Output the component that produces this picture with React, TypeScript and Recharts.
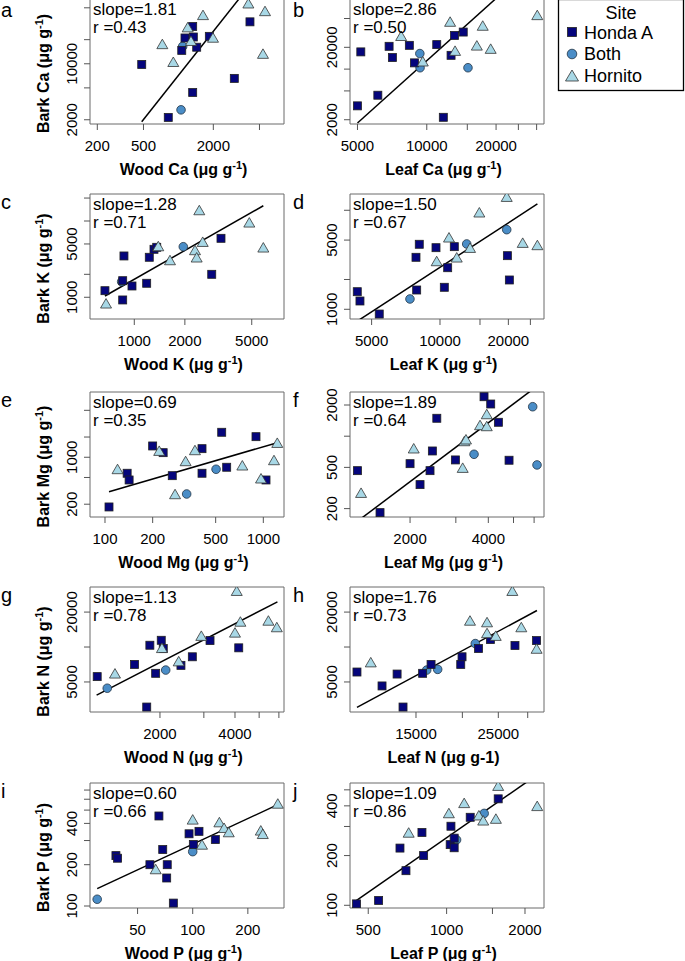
import React from "react";
import { ScatterChart, Scatter, XAxis, YAxis, ReferenceArea, ReferenceLine } from "recharts";

type Pt = [number, number];

// a: wood Ca vs bark Ca
const aHonda: Pt[] = [[483, 9800], [818, 2140], [1328, 4380], [3034, 6570], [4140, 33400], [1069, 14700], [1140, 21000], [1328, 29200], [1345, 21600], [1438, 16100], [1848, 22000]];
const aBoth: Pt[] = [[1089, 16500], [1054, 2660]];
const aHornito: Pt[] = [[727, 17700], [904, 10600], [1203, 28700], [1284, 19400], [1630, 40800], [1988, 21300], [4010, 57000], [5580, 45700], [5360, 13400]];
const aFit: Pt[] = [[483, 1890], [5580, 166000]];

// b: leaf Ca vs bark Ca
const bHonda: Pt[] = [[5000, 3110], [5170, 17300], [6130, 4360], [6860, 20650], [7090, 14450], [8400, 21300], [8840, 12200], [11050, 21800], [11800, 2160], [12750, 15500], [13200, 29200], [14400, 32500]];
const bBoth: Pt[] = [[9330, 16400], [9350, 10450], [15100, 10450]];
const bHornito: Pt[] = [[7740, 28900], [9610, 12850], [12630, 45400], [13270, 18000], [16500, 21300], [17500, 40000], [18950, 19200], [30200, 56100]];
const bFit: Pt[] = [[5000, 1800], [30200, 308000]];

// c: wood K vs bark K
const cHonda: Pt[] = [[669, 1220], [868, 3480], [853, 1650], [853, 922], [969, 1406], [1185, 1526], [1228, 3345], [1310, 4256], [1360, 4520], [2890, 2000], [3281, 5930]];
const cBoth: Pt[] = [[841, 1600], [1957, 4600]];
const cHornito: Pt[] = [[679, 834], [1389, 4700], [1631, 3080], [2437, 13940], [2298, 4170], [2351, 3345], [2554, 5355], [4836, 9610], [5860, 4520]];
const cFit: Pt[] = [[669, 1040], [5860, 15860]];

// d: leaf K vs bark K
const dHonda: Pt[] = [[4323, 1506], [4443, 1213], [5402, 896], [7840, 3350], [7895, 1566], [8105, 4535], [9603, 4190], [10447, 1668], [10810, 2630], [11560, 4290], [19800, 3480], [20200, 1977]];
const dBoth: Pt[] = [[7375, 1271], [13110, 4570], [19670, 6370]];
const dHornito: Pt[] = [[9670, 3075], [10955, 5335], [11850, 3350], [13560, 4190], [14900, 9550], [19670, 13720], [23130, 4710], [26840, 4465]];
const dFit: Pt[] = [[4323, 759], [26840, 11580]];

// e: wood Mg vs bark Mg
const eHonda: Pt[] = [[106, 182], [138, 578], [142, 459], [200, 1473], [233, 1171], [266, 532], [410, 1343], [410, 578], [546, 2355], [587, 710], [899, 2026], [1040, 459]];
const eBoth: Pt[] = [[328, 284], [503, 663]];
const eHornito: Pt[] = [[120, 670], [220, 1254], [277, 284], [323, 881], [370, 1284], [737, 760], [967, 487], [1168, 911], [1225, 1649]];
const eFit: Pt[] = [[106, 307], [1225, 1649]];

// f: leaf Mg vs bark Mg
const fHonda: Pt[] = [[1255, 465], [1533, 183], [2000, 543], [2185, 341], [2387, 465], [2437, 720], [2535, 1489], [2988, 590], [3851, 2404], [4086, 2045], [4373, 1362], [4806, 586]];
const fBoth: Pt[] = [[3525, 669], [5926, 1925], [6157, 528]];
const fHornito: Pt[] = [[1296, 285], [2066, 765], [3188, 497], [3236, 899], [3282, 934], [3717, 1283], [3945, 1637], [3945, 1255]];
const fFit: Pt[] = [[1255, 151], [6157, 3040]];

// g: wood N vs bark N
const gHonda: Pt[] = [[1120, 5560], [1582, 7080], [1770, 3040], [1822, 10360], [1922, 5935], [2024, 11430], [2062, 9705], [2428, 6950], [2697, 8240], [3176, 11360], [4141, 9840]];
const gBoth: Pt[] = [[1229, 4415], [2109, 6330]];
const gHornito: Pt[] = [[1320, 5935], [2037, 9840], [2378, 7560], [2930, 12530], [4000, 13370], [4065, 30560], [4204, 16600], [5445, 16940], [5886, 14870]];
const gFit: Pt[] = [[1114, 3850], [5920, 24500]];

// h: leaf N vs bark N
const hHonda: Pt[] = [[10400, 6090], [12150, 4620], [13340, 5850], [13840, 3040], [15630, 5935], [16470, 7080], [19800, 7080], [19960, 8240], [22110, 9705], [23800, 11590], [27720, 10300], [31700, 11360]];
const hBoth: Pt[] = [[16030, 6330], [17160, 6420], [21670, 10710]];
const hHornito: Pt[] = [[11330, 7410], [20970, 16940], [23310, 16410], [23310, 13220], [24600, 12530], [27270, 30560], [28830, 14870], [31700, 9705]];
const hFit: Pt[] = [[10400, 3020], [31770, 20640]];

// i: wood P vs bark P
const iHonda: Pt[] = [[38.1, 233], [38.9, 223], [58.4, 200], [65.4, 453], [68.6, 258], [72.1, 160], [72.6, 200], [78.4, 105], [95.5, 336], [100.8, 281], [108.2, 350], [132.9, 305]];
const iBoth: Pt[] = [[30.1, 112], [100, 249]];
const iHornito: Pt[] = [[62.8, 186], [100, 428], [112.4, 281], [139.8, 409], [148.3, 372], [157.3, 346], [235.3, 356], [241.3, 336], [291.4, 559]];
const iFit: Pt[] = [[30.1, 134], [291.4, 548]];

// j: leaf P vs bark P
const jHonda: Pt[] = [[451, 102], [548, 107], [662, 222], [698, 162], [804, 276], [816, 200], [1039, 301], [1032, 233], [1069, 255], [1069, 223], [1232, 341], [1578, 441]];
const jBoth: Pt[] = [[1092, 249], [1394, 360]];
const jHornito: Pt[] = [[715, 276], [1020, 362], [1168, 417], [1330, 351], [1382, 327], [1546, 335], [1578, 530], [2228, 400]];
const jFit: Pt[] = [[451, 107], [2228, 617]];

const FONT = '"Liberation Sans", Arial, Helvetica, sans-serif';
const HONDA = "#05057c";
const BOTH = "#4a8dc7";
const HORNITO = "#a8d8e6";

const BOX_W = 194;
const BOX_H = 125;
const Y_AXIS_W = 40;
const TOP_PAD = 12;
const RIGHT_PAD = 14;
const X_AXIS_H = 36;

interface PanelSpec {
  tag: string;
  left: number;
  top: number;
  xDomain: [number, number];
  xTicks: number[];
  xLabels: number[];
  yDomain: [number, number];
  yTicks: number[];
  yLabels: number[];
  xName: string;
  xSup: boolean;
  yName?: string;
  slope: string;
  r: string;
  honda: Pt[];
  both: Pt[];
  hornito: Pt[];
  fit: Pt[];
}

const panels: PanelSpec[] = [
  { tag: "a", left: 90, top: -1, xDomain: [173, 8135], xTicks: [200, 500, 2000, 5000], xLabels: [200, 500, 2000],
    yDomain: [1770, 64400], yTicks: [2000, 5000, 10000, 20000, 50000], yLabels: [2000, 10000],
    xName: "Wood Ca", xSup: true, yName: "Bark Ca", slope: "1.81", r: "0.43", honda: aHonda, both: aBoth, hornito: aHornito, fit: aFit },
  { tag: "b", left: 350, top: -1, xDomain: [4640, 32300], xTicks: [5000, 10000, 15000, 20000, 25000, 30000], xLabels: [5000, 10000, 20000],
    yDomain: [1746, 93000], yTicks: [2000, 5000, 10000, 20000, 50000], yLabels: [2000, 20000],
    xName: "Leaf Ca", xSup: true, slope: "2.86", r: "0.50", honda: bHonda, both: bBoth, hornito: bHornito, fit: bFit },
  { tag: "c", left: 90, top: 194, xDomain: [545, 7780], xTicks: [1000, 2000, 5000], xLabels: [1000, 2000, 5000],
    yDomain: [519, 22600], yTicks: [1000, 2000, 5000, 10000, 20000], yLabels: [1000, 5000],
    xName: "Wood K", xSup: true, yName: "Bark K", slope: "1.28", r: "0.71", honda: cHonda, both: cBoth, hornito: cHornito, fit: cFit },
  { tag: "d", left: 350, top: 194, xDomain: [4016, 28700], xTicks: [5000, 10000, 15000, 20000, 25000], xLabels: [5000, 10000, 20000],
    yDomain: [798, 14600], yTicks: [1000, 2000, 5000, 10000], yLabels: [1000, 5000],
    xName: "Leaf K", xSup: true, slope: "1.50", r: "0.67", honda: dHonda, both: dBoth, hornito: dHornito, fit: dFit },
  { tag: "e", left: 90, top: 392, xDomain: [80.4, 1351], xTicks: [100, 200, 500, 1000], xLabels: [100, 200, 500, 1000],
    yDomain: [129, 9370], yTicks: [200, 500, 1000, 2000, 5000], yLabels: [200, 1000],
    xName: "Wood Mg", xSup: true, yName: "Bark Mg", slope: "0.69", r: "0.35", honda: eHonda, both: eBoth, hornito: eHornito, fit: eFit },
  { tag: "f", left: 350, top: 392, xDomain: [1175, 6550], xTicks: [2000, 3000, 4000, 5000, 6000], xLabels: [2000, 4000],
    yDomain: [166, 2670], yTicks: [200, 500, 1000, 2000], yLabels: [200, 500, 2000],
    xName: "Leaf Mg", xSup: true, slope: "1.89", r: "0.64", honda: fHonda, both: fBoth, hornito: fHornito, fit: fFit },
  { tag: "g", left: 90, top: 587, xDomain: [1048, 6290], xTicks: [2000, 3000, 4000, 5000, 6000], xLabels: [2000, 4000],
    yDomain: [2755, 32900], yTicks: [5000, 10000, 20000], yLabels: [5000, 20000],
    xName: "Wood N", xSup: true, yName: "Bark N", slope: "1.13", r: "0.78", honda: gHonda, both: gBoth, hornito: gHornito, fit: gFit },
  { tag: "h", left: 350, top: 587, xDomain: [9960, 33190], xTicks: [15000, 20000, 25000, 30000], xLabels: [15000, 25000],
    yDomain: [2755, 32900], yTicks: [5000, 10000, 20000], yLabels: [5000, 20000],
    xName: "Leaf N", xSup: false, slope: "1.76", r: "0.73", honda: hHonda, both: hBoth, hornito: hHornito, fit: hFit },
  { tag: "i", left: 90, top: 783, xDomain: [27.5, 315], xTicks: [50, 100, 200], xLabels: [50, 100, 200],
    yDomain: [96.7, 788], yTicks: [100, 200, 300, 400, 500, 600, 700], yLabels: [100, 200, 400],
    xName: "Wood P", xSup: true, yName: "Bark P", slope: "0.60", r: "0.66", honda: iHonda, both: iBoth, hornito: iHornito, fit: iFit },
  { tag: "j", left: 350, top: 783, xDomain: [425.5, 2366], xTicks: [500, 1000, 1500, 2000], xLabels: [500, 1000, 2000],
    yDomain: [96.3, 550], yTicks: [100, 200, 300, 400, 500], yLabels: [100, 200, 400],
    xName: "Leaf P", xSup: true, slope: "1.09", r: "0.86", honda: jHonda, both: jBoth, hornito: jHornito, fit: jFit },
];

const toXY = (pts: Pt[]) => pts.map(([x, y]) => ({ x, y }));

function SquareDot(props: any) {
  const { cx, cy } = props;
  if (cx == null || cy == null) return <g />;
  return <rect x={cx - 4} y={cy - 4} width={8} height={8} fill={HONDA} stroke="#222" strokeWidth={0.8} />;
}

function CircleDot(props: any) {
  const { cx, cy } = props;
  if (cx == null || cy == null) return <g />;
  return <circle cx={cx} cy={cy} r={4.3} fill={BOTH} stroke="#223344" strokeWidth={0.8} />;
}

function TriangleDot(props: any) {
  const { cx, cy } = props;
  if (cx == null || cy == null) return <g />;
  const w = 11, h = 9.5;
  const pts = `${cx},${cy - h / 2} ${cx + w / 2},${cy + h / 2} ${cx - w / 2},${cy + h / 2}`;
  return <polygon points={pts} fill={HORNITO} stroke="#333" strokeWidth={0.8} strokeLinejoin="miter" />;
}

function Panel({ p }: { p: PanelSpec }) {
  const xTick = (props: any) => {
    const { x, y, payload } = props;
    if (!p.xLabels.includes(payload.value)) return <g />;
    return (
      <text x={x} y={y + 19} textAnchor="middle" fontSize={15} fill="#000" fontFamily={FONT}>
        {payload.value}
      </text>
    );
  };
  const yTick = (props: any) => {
    const { x, y, payload } = props;
    if (!p.yLabels.includes(payload.value)) return <g />;
    const tx = x - 5;
    return (
      <text x={tx} y={y} transform={`rotate(-90 ${tx} ${y})`} textAnchor="middle" fontSize={15} fill="#000" fontFamily={FONT}>
        {payload.value}
      </text>
    );
  };
  return (
    <div style={{ position: "absolute", left: p.left - Y_AXIS_W, top: p.top - TOP_PAD }}>
      <ScatterChart
        width={Y_AXIS_W + BOX_W + RIGHT_PAD}
        height={TOP_PAD + BOX_H + X_AXIS_H}
        margin={{ top: TOP_PAD, right: RIGHT_PAD, bottom: 0, left: 0 }}
      >
        <XAxis type="number" dataKey="x" scale="log" domain={p.xDomain} allowDataOverflow ticks={p.xTicks} interval={0}
          height={X_AXIS_H} tickSize={6} axisLine={false} tickLine={{ stroke: "#555" }} tick={xTick} />
        <YAxis type="number" dataKey="y" scale="log" domain={p.yDomain} allowDataOverflow ticks={p.yTicks} interval={0}
          width={Y_AXIS_W} tickSize={6} axisLine={false} tickLine={{ stroke: "#555" }} tick={yTick} />
        <ReferenceArea x1={p.xDomain[0]} x2={p.xDomain[1]} y1={p.yDomain[0]} y2={p.yDomain[1]}
          fill="none" fillOpacity={0} stroke="#6a6a6a" strokeWidth={1} ifOverflow="visible" />
        <Scatter data={toXY(p.both)} shape={CircleDot} isAnimationActive={false} />
        <Scatter data={toXY(p.honda)} shape={SquareDot} isAnimationActive={false} />
        <Scatter data={toXY(p.hornito)} shape={TriangleDot} isAnimationActive={false} />
        <ReferenceLine
          segment={[{ x: p.fit[0][0], y: p.fit[0][1] }, { x: p.fit[1][0], y: p.fit[1][1] }]}
          stroke="#000" strokeWidth={1.5} ifOverflow="hidden"
        />
      </ScatterChart>
    </div>
  );
}

function Unit({ sup }: { sup: boolean }) {
  if (!sup) return <tspan> (μg g-1)</tspan>;
  return (
    <>
      <tspan> (μg g</tspan>
      <tspan dy={-6} fontSize={11}>-1</tspan>
      <tspan dy={6}>)</tspan>
    </>
  );
}

function Annotations() {
  return (
    <svg width={685} height={961} style={{ position: "absolute", left: 0, top: 0, pointerEvents: "none" }} fontFamily={FONT}>
      {panels.map((p) => {
        const bottom = p.top + BOX_H;
        const isLeft = p.left < 200;
        const cy = p.top + BOX_H / 2 + 12;
        return (
          <g key={p.tag}>
            <text x={isLeft ? 1 : 293} y={Math.max(p.top + 15, 17)} fontSize={20} fill="#000">{p.tag}</text>
            <text x={p.left + 3} y={p.top + 15.5} fontSize={17} fill="#000">slope={p.slope}</text>
            <text x={p.left + 3} y={p.top + 33.5} fontSize={17} fill="#000">r ={p.r}</text>
            <text x={p.left + BOX_W / 2 - 3.5} y={bottom + 51} textAnchor="middle" fontSize={16} fontWeight="bold" fill="#000">
              {p.xName}
              <Unit sup={p.xSup} />
            </text>
            {p.yName && (
              <text x={49} y={cy} transform={`rotate(-90 49 ${cy})`} textAnchor="middle" fontSize={16} fontWeight="bold" fill="#000">
                {p.yName}
                <Unit sup />
              </text>
            )}
          </g>
        );
      })}
      <g>
        <rect x={558.5} y={-0.5} width={125} height={91} fill="#fff" stroke="#000" strokeWidth={1.3} />
        <text x={621} y={18.5} textAnchor="middle" fontSize={18} fill="#000">Site</text>
        <rect x={567.5} y={27.5} width={9} height={9} fill={HONDA} stroke="#222" strokeWidth={0.8} />
        <text x={584} y={38.5} fontSize={18} fill="#000">Honda A</text>
        <circle cx={572} cy={54} r={4.8} fill={BOTH} stroke="#223344" strokeWidth={0.8} />
        <text x={584} y={60} fontSize={18} fill="#000">Both</text>
        <polygon points="572,70 578.5,81 565.5,81" fill={HORNITO} stroke="#333" strokeWidth={0.8} />
        <text x={584} y={82} fontSize={18} fill="#000">Hornito</text>
      </g>
    </svg>
  );
}

export default function App() {
  return (
    <div style={{ position: "absolute", left: 0, top: 0, width: 685, height: 961, background: "#fff", fontFamily: FONT, overflow: "hidden" }}>
      {panels.map((p) => (
        <Panel key={p.tag} p={p} />
      ))}
      <Annotations />
    </div>
  );
}
